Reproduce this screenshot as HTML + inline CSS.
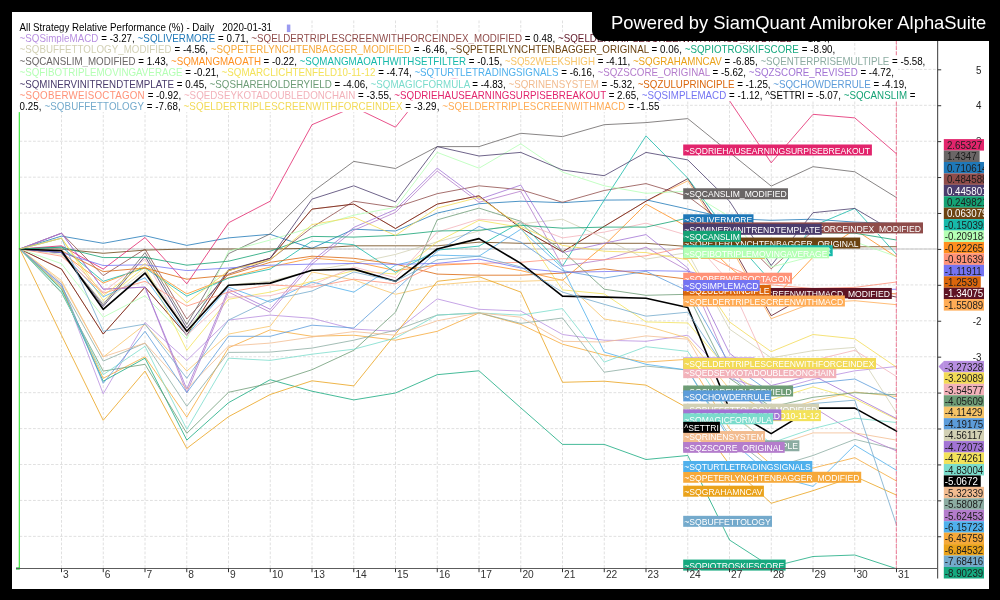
<!DOCTYPE html>
<html><head><meta charset="utf-8"><title>All Strategy Relative Performance</title>
<style>
html,body{margin:0;padding:0;background:#000;}
body{width:1000px;height:600px;position:relative;overflow:hidden;font-family:"Liberation Sans",Arial,sans-serif;}
#panel{position:absolute;left:12.25px;top:12.25px;width:976.25px;height:576.25px;background:#fff;}
svg{position:absolute;left:0;top:0;}
svg text{font-family:"Liberation Sans",Arial,sans-serif;}
.row{position:absolute;left:17.5px;padding-left:2px;height:11.4px;line-height:11.4px;font-size:9.75px;white-space:pre;background:#fff;color:#000;padding-right:1px;transform:scaleY(1.06);transform-origin:0 80%;}
#banner{position:absolute;left:591.5px;top:0;width:408.5px;height:41px;background:#000;border-bottom-left-radius:11px;color:#fff;font-size:18.4px;line-height:40px;}
#banner span{position:absolute;left:19.6px;top:3.1px;white-space:pre;}
</style></head><body>
<div id="panel"></div>
<svg width="1000" height="600" viewBox="0 0 1000 600">
<g stroke="#d8d8d8" stroke-width="0.8" stroke-dasharray="2.8 1.7" fill="none"><line x1="61.50" y1="20.5" x2="61.50" y2="568.5"/><line x1="103.25" y1="20.5" x2="103.25" y2="568.5"/><line x1="145.00" y1="20.5" x2="145.00" y2="568.5"/><line x1="186.75" y1="20.5" x2="186.75" y2="568.5"/><line x1="228.50" y1="20.5" x2="228.50" y2="568.5"/><line x1="270.25" y1="20.5" x2="270.25" y2="568.5"/><line x1="312.00" y1="20.5" x2="312.00" y2="568.5"/><line x1="353.75" y1="20.5" x2="353.75" y2="568.5"/><line x1="395.50" y1="20.5" x2="395.50" y2="568.5"/><line x1="437.25" y1="20.5" x2="437.25" y2="568.5"/><line x1="479.00" y1="20.5" x2="479.00" y2="568.5"/><line x1="520.75" y1="20.5" x2="520.75" y2="568.5"/><line x1="562.50" y1="20.5" x2="562.50" y2="568.5"/><line x1="604.25" y1="20.5" x2="604.25" y2="568.5"/><line x1="646.00" y1="20.5" x2="646.00" y2="568.5"/><line x1="687.75" y1="20.5" x2="687.75" y2="568.5"/><line x1="729.50" y1="20.5" x2="729.50" y2="568.5"/><line x1="771.25" y1="20.5" x2="771.25" y2="568.5"/><line x1="813.00" y1="20.5" x2="813.00" y2="568.5"/><line x1="854.75" y1="20.5" x2="854.75" y2="568.5"/><line x1="896.50" y1="20.5" x2="896.50" y2="568.5"/><line x1="19.5" y1="536.36" x2="937" y2="536.36"/><line x1="19.5" y1="500.44" x2="937" y2="500.44"/><line x1="19.5" y1="464.52" x2="937" y2="464.52"/><line x1="19.5" y1="428.60" x2="937" y2="428.60"/><line x1="19.5" y1="392.68" x2="937" y2="392.68"/><line x1="19.5" y1="356.76" x2="937" y2="356.76"/><line x1="19.5" y1="320.84" x2="937" y2="320.84"/><line x1="19.5" y1="284.92" x2="937" y2="284.92"/><line x1="19.5" y1="249.00" x2="937" y2="249.00"/><line x1="19.5" y1="213.08" x2="937" y2="213.08"/><line x1="19.5" y1="177.16" x2="937" y2="177.16"/><line x1="19.5" y1="141.24" x2="937" y2="141.24"/><line x1="19.5" y1="105.32" x2="937" y2="105.32"/><line x1="19.5" y1="69.40" x2="937" y2="69.40"/><line x1="19.5" y1="33.48" x2="937" y2="33.48"/></g>
<line x1="19.5" y1="249.00" x2="937" y2="249.00" stroke="#c4c4c4" stroke-width="1"/>
<line x1="19.3" y1="112" x2="19.3" y2="569" stroke="#2fe62f" stroke-width="1.1"/><rect x="16" y="567.4" width="3.8" height="2.2" fill="#21c63a"/>
<g fill="none" stroke-linejoin="round" stroke-linecap="round">
<polyline points="19.8,249.0 61.5,269.1 103.2,334.1 145.0,287.1 186.8,335.2 228.5,270.6 270.2,258.3 312.0,209.1 353.8,204.1 395.5,228.5 437.2,204.1 479.0,195.8 520.8,228.2 562.5,251.9 604.2,226.4 646.0,201.2 687.8,180.8 729.5,245.4 771.2,318.7 813.0,302.9 854.8,300.7 896.5,304.7" stroke="#ffac56" stroke-width="0.8"/>
<polyline points="19.8,249.0 61.5,284.9 103.2,393.8 145.0,322.6 186.8,360.4 228.5,320.1 270.2,315.1 312.0,318.3 353.8,329.1 395.5,331.3 437.2,298.9 479.0,309.3 520.8,311.1 562.5,334.5 604.2,340.2 646.0,341.3 687.8,335.2 729.5,378.3 771.2,390.9 813.0,379.4 854.8,370.8 896.5,366.5" stroke="#b78ee0" stroke-width="0.8"/>
<polyline points="19.8,249.0 61.5,236.1 103.2,243.3 145.0,235.7 186.8,245.4 228.5,237.9 270.2,234.3 312.0,248.3 353.8,229.2 395.5,231.0 437.2,213.1 479.0,203.7 520.8,201.2 562.5,202.7 604.2,200.1 646.0,199.8 687.8,209.1 729.5,218.5 771.2,220.3 813.0,219.2 854.8,222.1 896.5,223.5" stroke="#1f78b8" stroke-width="0.8"/>
<polyline points="19.8,249.0 61.5,233.2 103.2,275.6 145.0,249.0 186.8,319.0 228.5,274.1 270.2,259.8 312.0,227.4 353.8,201.2 395.5,207.3 437.2,193.7 479.0,185.8 520.8,189.7 562.5,202.3 604.2,190.5 646.0,183.6 687.8,196.2 729.5,227.4 771.2,268.8 813.0,231.0 854.8,227.4 896.5,231.8" stroke="#8f4c4a" stroke-width="0.8"/>
<polyline points="19.8,249.0 61.5,269.1 103.2,334.1 145.0,287.1 186.8,335.2 228.5,270.6 270.2,258.3 312.0,209.1 353.8,204.1 395.5,228.5 437.2,204.1 479.0,195.8 520.8,228.2 562.5,251.9 604.2,226.4 646.0,201.2 687.8,178.6 729.5,241.8 771.2,315.8 813.0,292.1 854.8,288.5 896.5,297.1" stroke="#5e1424" stroke-width="0.8"/>
<polyline points="19.8,249.0 61.5,254.4 103.2,302.9 145.0,270.6 186.8,328.0 228.5,284.9 270.2,281.3 312.0,270.6 353.8,263.4 395.5,254.4 437.2,241.8 479.0,231.0 520.8,223.9 562.5,219.2 604.2,238.2 646.0,259.1 687.8,252.6 729.5,329.1 771.2,357.8 813.0,350.7 854.8,347.4 896.5,412.8" stroke="#d2d0b4" stroke-width="0.8"/>
<polyline points="19.8,249.0 61.5,287.8 103.2,378.3 145.0,356.8 186.8,417.1 228.5,347.8 270.2,329.8 312.0,336.3 353.8,335.2 395.5,340.2 437.2,331.3 479.0,312.9 520.8,324.4 562.5,344.2 604.2,355.0 646.0,362.1 687.8,359.3 729.5,428.6 771.2,464.5 813.0,468.1 854.8,457.7 896.5,481.0" stroke="#f6a93a" stroke-width="0.8"/>
<polyline points="19.8,249.0 61.5,249.0 103.2,253.3 145.0,250.1 186.8,249.0 228.5,249.0 270.2,249.0 312.0,248.3 353.8,245.8 395.5,245.8 437.2,245.8 479.0,242.2 520.8,243.3 562.5,243.3 604.2,243.3 646.0,243.3 687.8,246.5 729.5,246.5 771.2,246.8 813.0,246.8 854.8,246.8 896.5,246.7" stroke="#6b4312" stroke-width="0.8"/>
<polyline points="19.8,249.0 61.5,289.2 103.2,381.2 145.0,358.2 186.8,440.1 228.5,402.7 270.2,379.7 312.0,391.2 353.8,399.9 395.5,393.0 437.2,374.7 479.0,370.8 520.8,407.8 562.5,444.4 604.2,444.4 646.0,459.5 687.8,455.5 729.5,540.0 771.2,566.9 813.0,556.5 854.8,555.0 896.5,568.7" stroke="#16a97f" stroke-width="0.8"/>
<polyline points="19.8,249.0 61.5,252.6 103.2,304.7 145.0,252.6 186.8,324.4 228.5,253.7 270.2,233.9 312.0,192.2 353.8,161.4 395.5,168.5 437.2,146.6 479.0,146.6 520.8,133.3 562.5,136.6 604.2,124.7 646.0,122.6 687.8,118.6 729.5,152.4 771.2,186.1 813.0,166.7 854.8,171.8 896.5,197.6" stroke="#6a6666" stroke-width="0.8"/>
<polyline points="19.8,249.0 61.5,252.6 103.2,283.1 145.0,267.0 186.8,293.9 228.5,277.7 270.2,267.0 312.0,258.0 353.8,261.6 395.5,270.6 437.2,265.2 479.0,263.4 520.8,270.6 562.5,280.3 604.2,245.4 646.0,204.1 687.8,227.1 729.5,267.0 771.2,301.1 813.0,257.3 854.8,229.6 896.5,256.9" stroke="#ff8f1f" stroke-width="0.8"/>
<polyline points="19.8,249.0 61.5,246.8 103.2,281.3 145.0,268.0 186.8,296.1 228.5,278.1 270.2,269.1 312.0,241.1 353.8,244.7 395.5,272.3 437.2,250.1 479.0,246.1 520.8,222.1 562.5,266.2 604.2,200.1 646.0,135.9 687.8,178.2 729.5,234.6 771.2,281.7 813.0,226.0 854.8,208.4 896.5,254.4" stroke="#17b9aa" stroke-width="0.8"/>
<polyline points="19.8,249.0 61.5,280.6 103.2,357.1 145.0,324.4 186.8,371.1 228.5,334.1 270.2,326.2 312.0,272.0 353.8,279.9 395.5,294.3 437.2,284.9 479.0,281.3 520.8,281.3 562.5,279.9 604.2,319.0 646.0,325.9 687.8,338.1 729.5,389.1 771.2,414.2 813.0,400.9 854.8,392.0 896.5,396.6" stroke="#f7c467" stroke-width="0.8"/>
<polyline points="19.8,249.0 61.5,335.2 103.2,420.3 145.0,371.1 186.8,448.4 228.5,416.7 270.2,394.5 312.0,380.8 353.8,385.9 395.5,334.1 437.2,281.3 479.0,276.7 520.8,292.1 562.5,382.3 604.2,381.2 646.0,385.1 687.8,408.1 729.5,464.5 771.2,503.3 813.0,490.7 854.8,476.4 896.5,495.1" stroke="#eaa21a" stroke-width="0.8"/>
<polyline points="19.8,249.0 61.5,286.4 103.2,361.1 145.0,343.1 186.8,406.3 228.5,352.4 270.2,352.1 312.0,348.1 353.8,340.2 395.5,330.2 437.2,315.1 479.0,312.9 520.8,323.4 562.5,318.0 604.2,372.2 646.0,366.1 687.8,370.1 729.5,435.8 771.2,468.1 813.0,455.5 854.8,439.4 896.5,449.4" stroke="#8caca2" stroke-width="0.8"/>
<polyline points="19.8,249.0 61.5,263.7 103.2,317.2 145.0,295.7 186.8,338.8 228.5,251.2 270.2,240.0 312.0,227.4 353.8,215.2 395.5,207.3 437.2,152.4 479.0,168.2 520.8,143.8 562.5,172.1 604.2,185.8 646.0,193.3 687.8,191.2 729.5,216.7 771.2,267.0 813.0,256.2 854.8,241.8 896.5,256.5" stroke="#b4ffb4" stroke-width="0.8"/>
<polyline points="19.8,249.0 61.5,238.2 103.2,300.4 145.0,267.0 186.8,350.3 228.5,299.3 270.2,292.1 312.0,281.3 353.8,270.6 395.5,274.1 437.2,241.8 479.0,220.3 520.8,227.4 562.5,289.9 604.2,293.9 646.0,321.9 687.8,323.0 729.5,371.1 771.2,399.9 813.0,386.9 854.8,398.8 896.5,419.3" stroke="#f3e25a" stroke-width="0.8"/>
<polyline points="19.8,249.0 61.5,252.6 103.2,296.8 145.0,277.7 186.8,335.2 228.5,287.1 270.2,302.2 312.0,282.0 353.8,292.1 395.5,265.2 437.2,255.1 479.0,256.2 520.8,229.2 562.5,268.0 604.2,352.1 646.0,364.3 687.8,370.1 729.5,439.4 771.2,475.3 813.0,486.4 854.8,445.1 896.5,470.3" stroke="#4fb0ec" stroke-width="0.8"/>
<polyline points="19.8,249.0 61.5,233.2 103.2,289.2 145.0,287.1 186.8,392.7 228.5,292.1 270.2,312.2 312.0,264.1 353.8,230.3 395.5,212.4 437.2,171.1 479.0,202.3 520.8,191.2 562.5,266.2 604.2,259.8 646.0,247.2 687.8,270.6 729.5,367.5 771.2,414.2 813.0,407.0 854.8,432.9 896.5,450.9" stroke="#b47ccc" stroke-width="0.8"/>
<polyline points="19.8,249.0 61.5,233.2 103.2,289.2 145.0,287.1 186.8,389.1 228.5,289.2 270.2,309.3 312.0,261.2 353.8,227.4 395.5,209.5 437.2,168.2 479.0,199.4 520.8,185.1 562.5,252.6 604.2,243.3 646.0,234.6 687.8,268.0 729.5,353.2 771.2,385.5 813.0,375.4 854.8,397.0 896.5,418.5" stroke="#a274d4" stroke-width="0.8"/>
<polyline points="19.8,249.0 61.5,252.6 103.2,306.5 145.0,256.2 186.8,328.0 228.5,269.8 270.2,258.3 312.0,199.1 353.8,185.8 395.5,201.9 437.2,146.6 479.0,156.0 520.8,152.4 562.5,170.0 604.2,175.7 646.0,152.4 687.8,159.9 729.5,201.2 771.2,265.5 813.0,212.7 854.8,208.4 896.5,233.0" stroke="#4a3c6c" stroke-width="0.8"/>
<polyline points="19.8,249.0 61.5,292.8 103.2,371.1 145.0,364.3 186.8,433.3 228.5,392.3 270.2,383.3 312.0,369.7 353.8,350.3 395.5,312.2 437.2,219.9 479.0,208.1 520.8,221.3 562.5,250.8 604.2,289.2 646.0,295.3 687.8,294.3 729.5,378.3 771.2,407.0 813.0,397.3 854.8,392.7 896.5,394.8" stroke="#6d9c76" stroke-width="0.8"/>
<polyline points="19.8,249.0 61.5,291.4 103.2,374.7 145.0,346.3 186.8,429.3 228.5,358.2 270.2,360.4 312.0,354.2 353.8,349.2 395.5,338.1 437.2,315.1 479.0,312.9 520.8,315.1 562.5,308.6 604.2,362.1 646.0,346.7 687.8,351.4 729.5,414.2 771.2,443.0 813.0,428.6 854.8,418.2 896.5,422.5" stroke="#7adccc" stroke-width="0.8"/>
<polyline points="19.8,249.0 61.5,282.4 103.2,356.8 145.0,343.1 186.8,389.1 228.5,346.0 270.2,343.1 312.0,337.0 353.8,331.6 395.5,335.2 437.2,320.8 479.0,312.9 520.8,317.2 562.5,341.3 604.2,342.0 646.0,335.9 687.8,339.2 729.5,410.6 771.2,446.6 813.0,432.9 854.8,432.9 896.5,440.1" stroke="#f2bc90" stroke-width="0.8"/>
<polyline points="19.8,249.0 61.5,250.8 103.2,271.6 145.0,268.0 186.8,279.2 228.5,275.2 270.2,262.3 312.0,256.2 353.8,258.3 395.5,264.1 437.2,274.1 479.0,275.2 520.8,275.2 562.5,273.1 604.2,268.8 646.0,274.1 687.8,279.2 729.5,288.5 771.2,293.9 813.0,292.1 854.8,292.1 896.5,293.9" stroke="#da660c" stroke-width="0.8"/>
<polyline points="19.8,249.0 61.5,284.2 103.2,383.3 145.0,331.3 186.8,392.7 228.5,336.3 270.2,336.3 312.0,325.2 353.8,328.0 395.5,290.3 437.2,251.2 479.0,226.4 520.8,242.2 562.5,270.6 604.2,278.1 646.0,271.3 687.8,291.0 729.5,363.9 771.2,392.7 813.0,383.3 854.8,379.0 896.5,399.5" stroke="#5c9cda" stroke-width="0.8"/>
<polyline points="19.8,249.0 61.5,256.2 103.2,293.2 145.0,281.3 186.8,306.1 228.5,292.1 270.2,284.9 312.0,287.1 353.8,279.2 395.5,283.8 437.2,264.1 479.0,263.4 520.8,262.3 562.5,258.7 604.2,259.8 646.0,255.8 687.8,246.5 729.5,267.0 771.2,284.9 813.0,288.5 854.8,287.4 896.5,282.0" stroke="#ff9278" stroke-width="0.8"/>
<polyline points="19.8,249.0 61.5,250.8 103.2,292.1 145.0,259.1 186.8,335.2 228.5,297.1 270.2,295.7 312.0,284.9 353.8,267.0 395.5,277.7 437.2,232.1 479.0,219.2 520.8,222.1 562.5,237.9 604.2,232.1 646.0,223.1 687.8,235.4 729.5,282.0 771.2,374.0 813.0,360.4 854.8,350.3 896.5,376.5" stroke="#f2b2ba" stroke-width="0.8"/>
<polyline points="19.8,249.0 61.5,245.8 103.2,269.1 145.0,237.5 186.8,283.8 228.5,222.8 270.2,201.2 312.0,124.7 353.8,107.1 395.5,127.2 437.2,74.8 479.0,83.8 520.8,91.0 562.5,80.2 604.2,87.4 646.0,94.5 687.8,83.8 729.5,100.7 771.2,162.8 813.0,114.3 854.8,117.9 896.5,153.8" stroke="#e2246c" stroke-width="0.8"/>
<polyline points="19.8,249.0 61.5,252.6 103.2,265.5 145.0,264.8 186.8,270.6 228.5,268.0 270.2,265.2 312.0,264.1 353.8,263.4 395.5,264.4 437.2,263.4 479.0,259.1 520.8,268.0 562.5,272.3 604.2,271.6 646.0,270.6 687.8,271.3 729.5,281.3 771.2,288.5 813.0,290.3 854.8,290.3 896.5,289.2" stroke="#7474f2" stroke-width="0.8"/>
<polyline points="19.8,249.0 61.5,250.8 103.2,309.3 145.0,273.1 186.8,331.3 228.5,285.3 270.2,283.1 312.0,270.2 353.8,269.1 395.5,281.3 437.2,249.0 479.0,238.6 520.8,263.4 562.5,296.1 604.2,297.1 646.0,298.2 687.8,307.5 729.5,409.2 771.2,433.6 813.0,408.1 854.8,408.1 896.5,431.1" stroke="#000000" stroke-width="1.65"/>
<polyline points="19.8,249.0 61.5,247.2 103.2,257.6 145.0,257.3 186.8,265.2 228.5,261.2 270.2,251.2 312.0,236.4 353.8,237.1 395.5,235.4 437.2,231.0 479.0,230.3 520.8,225.3 562.5,228.2 604.2,227.1 646.0,227.1 687.8,218.1 729.5,223.9 771.2,231.0 813.0,232.8 854.8,233.2 896.5,240.0" stroke="#14a274" stroke-width="0.8"/>
<polyline points="19.8,249.0 61.5,238.2 103.2,331.3 145.0,324.1 186.8,378.3 228.5,320.1 270.2,300.0 312.0,291.0 353.8,272.0 395.5,281.3 437.2,259.8 479.0,256.2 520.8,267.0 562.5,292.1 604.2,304.3 646.0,316.2 687.8,312.2 729.5,374.7 771.2,410.6 813.0,403.5 854.8,400.2 896.5,524.9" stroke="#74aacc" stroke-width="0.8"/>
<polyline points="19.8,249.0 61.5,238.2 103.2,295.7 145.0,263.4 186.8,302.9 228.5,270.6 270.2,259.8 312.0,224.6 353.8,217.2 395.5,235.4 437.2,208.1 479.0,197.3 520.8,226.4 562.5,245.4 604.2,251.2 646.0,252.6 687.8,259.8 729.5,321.9 771.2,351.7 813.0,334.5 854.8,338.8 896.5,367.2" stroke="#f2da56" stroke-width="0.8"/>
</g>
<line x1="896.3" y1="40" x2="896.3" y2="569" stroke="#ec5a7c" stroke-width="0.8" stroke-dasharray="4.4 1.2"/>
<g font-size="8.6" fill="#fff">
<rect x="683.2" y="357.38" width="71.3" height="11" fill="#b78ee0"/><text transform="translate(684.3,366.58) scale(1,1.13)">~SQSimpleMACD</text>
<rect x="683.2" y="214.27" width="70.3" height="11" fill="#1f78b8"/><text transform="translate(684.3,223.47) scale(1,1.13)">~SQLIVERMORE</text>
<rect x="683.2" y="222.39" width="239.8" height="11" fill="#8f4c4a"/><text transform="translate(684.3,231.59) scale(1,1.13)">~SQELDERTRIPLESCREENWITHFORCEINDEX_MODIFIED</text>
<rect x="683.2" y="287.96" width="208.6" height="11" fill="#5e1424"/><text transform="translate(684.3,297.16) scale(1,1.13)">~SQELDERTRIPLESCREENWITHMACD_MODIFIED</text>
<rect x="683.2" y="403.64" width="135.8" height="11" fill="#d2d0b4"/><text transform="translate(684.3,412.84) scale(1,1.13)">~SQBUFFETTOLOGY_MODIFIED</text>
<rect x="683.2" y="471.76" width="178.0" height="11" fill="#f6a93a"/><text transform="translate(684.3,480.96) scale(1,1.13)">~SQPETERLYNCHTENBAGGER_MODIFIED</text>
<rect x="683.2" y="237.53" width="177.0" height="11" fill="#6b4312"/><text transform="translate(684.3,246.73) scale(1,1.13)">~SQPETERLYNCHTENBAGGER_ORIGINAL</text>
<rect x="683.2" y="559.57" width="102.4" height="11" fill="#16a97f"/><text transform="translate(684.3,568.77) scale(1,1.13)">~SQPIOTROSKIFSCORE</text>
<rect x="683.2" y="188.27" width="104.8" height="11" fill="#6a6666"/><text transform="translate(684.3,197.47) scale(1,1.13)">~SQCANSLIM_MODIFIED</text>
<rect x="683.2" y="247.80" width="81.6" height="11" fill="#ff8f1f"/><text transform="translate(684.3,257.00) scale(1,1.13)">~SQMANGMAOATH</text>
<rect x="683.2" y="245.20" width="149.5" height="11" fill="#17b9aa"/><text transform="translate(684.3,254.40) scale(1,1.13)">~SQMANGMAOATHWITHSETFILTER</text>
<rect x="683.2" y="387.59" width="81.8" height="11" fill="#f7c467"/><text transform="translate(684.3,396.79) scale(1,1.13)">~SQ52WEEKSHIGH</text>
<rect x="683.2" y="485.68" width="80.7" height="11" fill="#eaa21a"/><text transform="translate(684.3,494.88) scale(1,1.13)">~SQGRAHAMNCAV</text>
<rect x="683.2" y="440.26" width="116.2" height="11" fill="#8caca2"/><text transform="translate(684.3,449.46) scale(1,1.13)">~SQENTERPRISEMULTIPLE</text>
<rect x="683.2" y="247.31" width="145.9" height="11" fill="#b4ffb4"/><text transform="translate(684.3,256.51) scale(1,1.13)">~SQFIBOTRIPLEMOVINGAVERAGE</text>
<rect x="683.2" y="410.15" width="137.7" height="11" fill="#f3e25a"/><text transform="translate(684.3,419.35) scale(1,1.13)">~SQMARCLICHTENFELD10-11-12</text>
<rect x="683.2" y="460.97" width="129.1" height="11" fill="#4fb0ec"/><text transform="translate(684.3,470.17) scale(1,1.13)">~SQTURTLETRADINGSIGNALS</text>
<rect x="683.2" y="441.83" width="101.5" height="11" fill="#b47ccc"/><text transform="translate(684.3,451.03) scale(1,1.13)">~SQZSCORE_ORIGINAL</text>
<rect x="683.2" y="409.37" width="98.1" height="11" fill="#a274d4"/><text transform="translate(684.3,418.57) scale(1,1.13)">~SQZSCORE_REVISED</text>
<rect x="683.2" y="223.79" width="138.5" height="11" fill="#4a3c6c"/><text transform="translate(684.3,232.99) scale(1,1.13)">~SQMINERVINITRENDTEMPLATE</text>
<rect x="683.2" y="385.49" width="109.9" height="11" fill="#6d9c76"/><text transform="translate(684.3,394.69) scale(1,1.13)">~SQSHAREHOLDERYIELD</text>
<rect x="683.2" y="413.30" width="89.9" height="11" fill="#7adccc"/><text transform="translate(684.3,422.50) scale(1,1.13)">~SQMAGICFORMULA</text>
<rect x="683.2" y="431.02" width="81.8" height="11" fill="#f2bc90"/><text transform="translate(684.3,440.22) scale(1,1.13)">~SQRINENSYSTEM</text>
<rect x="683.2" y="284.84" width="87.6" height="11" fill="#da660c"/><text transform="translate(684.3,294.04) scale(1,1.13)">~SQZULUPRINCIPLE</text>
<rect x="683.2" y="390.37" width="88.0" height="11" fill="#5c9cda"/><text transform="translate(684.3,399.57) scale(1,1.13)">~SQCHOWDERRULE</text>
<rect x="683.2" y="272.72" width="108.8" height="11" fill="#ff9278"/><text transform="translate(684.3,281.92) scale(1,1.13)">~SQOBERWEISOCTAGON</text>
<rect x="683.2" y="367.16" width="153.1" height="11" fill="#f2b2ba"/><text transform="translate(684.3,376.36) scale(1,1.13)">~SQEDSEYKOTADOUBLEDONCHAIN</text>
<rect x="683.2" y="144.49" width="188.7" height="11" fill="#e2246c"/><text transform="translate(684.3,153.69) scale(1,1.13)">~SQDRIEHAUSEARNINGSURPISEBREAKOUT</text>
<rect x="683.2" y="280.00" width="76.5" height="11" fill="#7474f2"/><text transform="translate(684.3,289.20) scale(1,1.13)">~SQSIMPLEMACD</text>
<rect x="683.2" y="421.81" width="36.7" height="11" fill="#000000"/><text transform="translate(684.3,431.01) scale(1,1.13)">^SETTRI</text>
<rect x="683.2" y="230.83" width="57.8" height="11" fill="#14a274"/><text transform="translate(684.3,240.03) scale(1,1.13)">~SQCANSLIM</text>
<rect x="683.2" y="515.82" width="88.8" height="11" fill="#74aacc"/><text transform="translate(684.3,525.02) scale(1,1.13)">~SQBUFFETTOLOGY</text>
<rect x="683.2" y="358.01" width="192.8" height="11" fill="#f2da56"/><text transform="translate(684.3,367.21) scale(1,1.13)">~SQELDERTRIPLESCREENWITHFORCEINDEX</text>
<rect x="683.2" y="295.51" width="161.7" height="11" fill="#ffac56"/><text transform="translate(684.3,304.71) scale(1,1.13)">~SQELDERTRIPLESCREENWITHMACD</text>
</g>
<line x1="16" y1="568.5" x2="938" y2="568.5" stroke="#5c5c5c" stroke-width="1"/>
<line x1="937.6" y1="40" x2="937.6" y2="578.5" stroke="#5a5a5a" stroke-width="1.2"/>
<g stroke="#333" stroke-width="1"><line x1="61.50" y1="568.5" x2="61.50" y2="572.2"/><line x1="103.25" y1="568.5" x2="103.25" y2="572.2"/><line x1="145.00" y1="568.5" x2="145.00" y2="572.2"/><line x1="186.75" y1="568.5" x2="186.75" y2="572.2"/><line x1="228.50" y1="568.5" x2="228.50" y2="572.2"/><line x1="270.25" y1="568.5" x2="270.25" y2="572.2"/><line x1="312.00" y1="568.5" x2="312.00" y2="572.2"/><line x1="353.75" y1="568.5" x2="353.75" y2="572.2"/><line x1="395.50" y1="568.5" x2="395.50" y2="572.2"/><line x1="437.25" y1="568.5" x2="437.25" y2="572.2"/><line x1="479.00" y1="568.5" x2="479.00" y2="572.2"/><line x1="520.75" y1="568.5" x2="520.75" y2="572.2"/><line x1="562.50" y1="568.5" x2="562.50" y2="572.2"/><line x1="604.25" y1="568.5" x2="604.25" y2="572.2"/><line x1="646.00" y1="568.5" x2="646.00" y2="572.2"/><line x1="687.75" y1="568.5" x2="687.75" y2="572.2"/><line x1="729.50" y1="568.5" x2="729.50" y2="572.2"/><line x1="771.25" y1="568.5" x2="771.25" y2="572.2"/><line x1="813.00" y1="568.5" x2="813.00" y2="572.2"/><line x1="854.75" y1="568.5" x2="854.75" y2="572.2"/><line x1="896.50" y1="568.5" x2="896.50" y2="572.2"/><line x1="937.6" y1="536.76" x2="941.2" y2="536.76"/><line x1="937.6" y1="500.84" x2="941.2" y2="500.84"/><line x1="937.6" y1="464.92" x2="941.2" y2="464.92"/><line x1="937.6" y1="429.00" x2="941.2" y2="429.00"/><line x1="937.6" y1="393.08" x2="941.2" y2="393.08"/><line x1="937.6" y1="357.16" x2="941.2" y2="357.16"/><line x1="937.6" y1="321.24" x2="941.2" y2="321.24"/><line x1="937.6" y1="285.32" x2="941.2" y2="285.32"/><line x1="937.6" y1="249.40" x2="941.2" y2="249.40"/><line x1="937.6" y1="213.48" x2="941.2" y2="213.48"/><line x1="937.6" y1="177.56" x2="941.2" y2="177.56"/><line x1="937.6" y1="141.64" x2="941.2" y2="141.64"/><line x1="937.6" y1="105.72" x2="941.2" y2="105.72"/><line x1="937.6" y1="69.80" x2="941.2" y2="69.80"/></g>
<g font-size="10.2" fill="#333"><text x="63.1" y="578.1">3</text><text x="104.8" y="578.1">6</text><text x="146.6" y="578.1">7</text><text x="188.3" y="578.1">8</text><text x="230.1" y="578.1">9</text><text x="271.9" y="578.1">10</text><text x="313.6" y="578.1">13</text><text x="355.4" y="578.1">14</text><text x="397.1" y="578.1">15</text><text x="438.9" y="578.1">16</text><text x="480.6" y="578.1">17</text><text x="522.4" y="578.1">20</text><text x="564.1" y="578.1">21</text><text x="605.9" y="578.1">22</text><text x="647.6" y="578.1">23</text><text x="689.4" y="578.1">24</text><text x="731.1" y="578.1">27</text><text x="772.9" y="578.1">28</text><text x="814.6" y="578.1">29</text><text x="856.4" y="578.1">30</text><text x="898.1" y="578.1">31</text></g>
<g font-size="9.75" fill="#222" text-anchor="end"><text transform="translate(981.5,540.5) scale(1,1.07)">-8</text><text transform="translate(981.5,504.5) scale(1,1.07)">-7</text><text transform="translate(981.5,468.6) scale(1,1.07)">-6</text><text transform="translate(981.5,432.7) scale(1,1.07)">-5</text><text transform="translate(981.5,396.8) scale(1,1.07)">-4</text><text transform="translate(981.5,360.9) scale(1,1.07)">-3</text><text transform="translate(981.5,324.9) scale(1,1.07)">-2</text><text transform="translate(981.5,289.0) scale(1,1.07)">-1</text><text transform="translate(981.5,253.1) scale(1,1.07)">0</text><text transform="translate(981.5,217.2) scale(1,1.07)">1</text><text transform="translate(981.5,181.3) scale(1,1.07)">2</text><text transform="translate(981.5,145.3) scale(1,1.07)">3</text><text transform="translate(981.5,109.4) scale(1,1.07)">4</text><text transform="translate(981.5,73.5) scale(1,1.07)">5</text></g>
<clipPath id="vc"><rect x="930" y="0" width="53.9" height="600"/></clipPath>
<g font-size="9.75" clip-path="url(#vc)">
<rect x="943.8" y="139.10" width="40.70" height="11.48" fill="#e2246c"/><text transform="translate(946.9,148.85) scale(1,1.07)" fill="#1c1c1c">2.65327</text>
<rect x="943.8" y="150.53" width="35.82" height="11.48" fill="#6a6666"/><text transform="translate(946.9,160.28) scale(1,1.07)" fill="#1c1c1c">1.4347</text>
<rect x="943.8" y="161.96" width="40.70" height="11.48" fill="#1f78b8"/><text transform="translate(946.9,171.71) scale(1,1.07)" fill="#1c1c1c">0.710614</text>
<rect x="943.8" y="173.39" width="40.70" height="11.48" fill="#8f4c4a"/><text transform="translate(946.9,183.14) scale(1,1.07)" fill="#1c1c1c">0.484588</text>
<rect x="943.8" y="184.82" width="40.70" height="11.48" fill="#4a3c6c"/><text transform="translate(946.9,194.57) scale(1,1.07)" fill="#fff">0.445801</text>
<rect x="943.8" y="196.25" width="40.70" height="11.48" fill="#14a274"/><text transform="translate(946.9,206.00) scale(1,1.07)" fill="#1c1c1c">0.249821</text>
<rect x="943.8" y="207.68" width="40.70" height="11.48" fill="#6b4312"/><text transform="translate(946.9,217.43) scale(1,1.07)" fill="#fff">0.063079</text>
<rect x="943.8" y="219.11" width="40.70" height="11.48" fill="#17b9aa"/><text transform="translate(944.8,228.86) scale(1,1.07)" fill="#1c1c1c">-0.150395</text>
<rect x="943.8" y="230.54" width="40.70" height="11.48" fill="#b4ffb4"/><text transform="translate(944.8,240.29) scale(1,1.07)" fill="#1c1c1c">-0.209188</text>
<rect x="943.8" y="241.97" width="40.70" height="11.48" fill="#ff8f1f"/><text transform="translate(944.8,251.72) scale(1,1.07)" fill="#1c1c1c">-0.22265</text>
<rect x="943.8" y="253.40" width="40.70" height="11.48" fill="#ff9278"/><text transform="translate(944.8,263.15) scale(1,1.07)" fill="#1c1c1c">-0.916392</text>
<rect x="943.8" y="264.83" width="40.70" height="11.48" fill="#7474f2"/><text transform="translate(944.8,274.58) scale(1,1.07)" fill="#1c1c1c">-1.11911</text>
<rect x="943.8" y="276.26" width="36.97" height="11.48" fill="#da660c"/><text transform="translate(944.8,286.01) scale(1,1.07)" fill="#1c1c1c">-1.2539</text>
<rect x="943.8" y="287.69" width="40.70" height="11.48" fill="#5e1424"/><text transform="translate(944.8,297.44) scale(1,1.07)" fill="#fff">-1.34075</text>
<rect x="943.8" y="299.12" width="40.70" height="11.48" fill="#ffac56"/><text transform="translate(944.8,308.87) scale(1,1.07)" fill="#1c1c1c">-1.55089</text>
<polygon points="938.5,366.62 943.9,360.90 943.9,372.35" fill="#b78ee0"/><rect x="943.8" y="360.90" width="40.70" height="11.50" fill="#b78ee0"/><text transform="translate(944.8,370.65) scale(1,1.07)" fill="#1c1c1c">-3.27328</text>
<rect x="943.8" y="372.35" width="40.70" height="11.50" fill="#f2da56"/><text transform="translate(944.8,382.10) scale(1,1.07)" fill="#1c1c1c">-3.29089</text>
<rect x="943.8" y="383.80" width="40.70" height="11.50" fill="#f2b2ba"/><text transform="translate(944.8,393.55) scale(1,1.07)" fill="#1c1c1c">-3.54577</text>
<rect x="943.8" y="395.25" width="40.70" height="11.50" fill="#6d9c76"/><text transform="translate(944.8,405.00) scale(1,1.07)" fill="#1c1c1c">-4.05609</text>
<rect x="943.8" y="406.70" width="40.70" height="11.50" fill="#f7c467"/><text transform="translate(944.8,416.45) scale(1,1.07)" fill="#1c1c1c">-4.11429</text>
<rect x="943.8" y="418.15" width="40.70" height="11.50" fill="#5c9cda"/><text transform="translate(944.8,427.90) scale(1,1.07)" fill="#1c1c1c">-4.19175</text>
<rect x="943.8" y="429.60" width="40.70" height="11.50" fill="#d2d0b4"/><text transform="translate(944.8,439.35) scale(1,1.07)" fill="#1c1c1c">-4.56117</text>
<rect x="943.8" y="441.05" width="40.70" height="11.50" fill="#a274d4"/><text transform="translate(944.8,450.80) scale(1,1.07)" fill="#1c1c1c">-4.72073</text>
<rect x="943.8" y="452.50" width="40.70" height="11.50" fill="#f3e25a"/><text transform="translate(944.8,462.25) scale(1,1.07)" fill="#1c1c1c">-4.74261</text>
<rect x="943.8" y="463.95" width="40.70" height="11.50" fill="#7adccc"/><text transform="translate(944.8,473.70) scale(1,1.07)" fill="#1c1c1c">-4.83004</text>
<rect x="943.8" y="475.40" width="36.97" height="11.50" fill="#000000"/><text transform="translate(944.8,485.15) scale(1,1.07)" fill="#fff">-5.0672</text>
<rect x="943.8" y="486.85" width="40.70" height="11.50" fill="#f2bc90"/><text transform="translate(944.8,496.60) scale(1,1.07)" fill="#1c1c1c">-5.32339</text>
<rect x="943.8" y="498.30" width="40.70" height="11.50" fill="#8caca2"/><text transform="translate(944.8,508.05) scale(1,1.07)" fill="#1c1c1c">-5.58087</text>
<rect x="943.8" y="509.75" width="40.70" height="11.50" fill="#b47ccc"/><text transform="translate(944.8,519.50) scale(1,1.07)" fill="#1c1c1c">-5.62453</text>
<rect x="943.8" y="521.20" width="40.70" height="11.50" fill="#4fb0ec"/><text transform="translate(944.8,530.95) scale(1,1.07)" fill="#1c1c1c">-6.15723</text>
<rect x="943.8" y="532.65" width="40.70" height="11.50" fill="#f6a93a"/><text transform="translate(944.8,542.40) scale(1,1.07)" fill="#1c1c1c">-6.45759</text>
<rect x="943.8" y="544.10" width="40.70" height="11.50" fill="#eaa21a"/><text transform="translate(944.8,553.85) scale(1,1.07)" fill="#1c1c1c">-6.84532</text>
<rect x="943.8" y="555.55" width="40.70" height="11.50" fill="#74aacc"/><text transform="translate(944.8,565.30) scale(1,1.07)" fill="#1c1c1c">-7.68416</text>
<rect x="943.8" y="567.00" width="40.70" height="11.50" fill="#16a97f"/><text transform="translate(944.8,576.75) scale(1,1.07)" fill="#1c1c1c">-8.90239</text>
</g>
</svg>
<div class="row" style="top:21.75px;letter-spacing:0px">All Strategy Relative Performance (%) - Daily   2020-01-31     <span style="color:#9a9af0">&#9646;</span></div>
<div class="row" style="top:33.12px;letter-spacing:0.045px"><span style="color:#b78ee0">~SQSimpleMACD</span> = -3.27, <span style="color:#1f78b8">~SQLIVERMORE</span> = 0.71, <span style="color:#8f4c4a">~SQELDERTRIPLESCREENWITHFORCEINDEX_MODIFIED</span> = 0.48, <span style="color:#5e1424">~SQELDERTRIPLESCREENWITHMACD_MODIFIED</span> = -1.34, </div>
<div class="row" style="top:44.49px;letter-spacing:0.039px"><span style="color:#d2d0b4">~SQBUFFETTOLOGY_MODIFIED</span> = -4.56, <span style="color:#f6a93a">~SQPETERLYNCHTENBAGGER_MODIFIED</span> = -6.46, <span style="color:#6b4312">~SQPETERLYNCHTENBAGGER_ORIGINAL</span> = 0.06, <span style="color:#16a97f">~SQPIOTROSKIFSCORE</span> = -8.90, </div>
<div class="row" style="top:55.86px;letter-spacing:-0.008px"><span style="color:#6a6666">~SQCANSLIM_MODIFIED</span> = 1.43, <span style="color:#ff8f1f">~SQMANGMAOATH</span> = -0.22, <span style="color:#17b9aa">~SQMANGMAOATHWITHSETFILTER</span> = -0.15, <span style="color:#f7c467">~SQ52WEEKSHIGH</span> = -4.11, <span style="color:#eaa21a">~SQGRAHAMNCAV</span> = -6.85, <span style="color:#8caca2">~SQENTERPRISEMULTIPLE</span> = -5.58, </div>
<div class="row" style="top:67.23px;letter-spacing:0.018px"><span style="color:#b4ffb4">~SQFIBOTRIPLEMOVINGAVERAGE</span> = -0.21, <span style="color:#f3e25a">~SQMARCLICHTENFELD10-11-12</span> = -4.74, <span style="color:#4fb0ec">~SQTURTLETRADINGSIGNALS</span> = -6.16, <span style="color:#b47ccc">~SQZSCORE_ORIGINAL</span> = -5.62, <span style="color:#a274d4">~SQZSCORE_REVISED</span> = -4.72, </div>
<div class="row" style="top:78.60px;letter-spacing:0.008px"><span style="color:#4a3c6c">~SQMINERVINITRENDTEMPLATE</span> = 0.45, <span style="color:#6d9c76">~SQSHAREHOLDERYIELD</span> = -4.06, <span style="color:#7adccc">~SQMAGICFORMULA</span> = -4.83, <span style="color:#f2bc90">~SQRINENSYSTEM</span> = -5.32, <span style="color:#da660c">~SQZULUPRINCIPLE</span> = -1.25, <span style="color:#5c9cda">~SQCHOWDERRULE</span> = -4.19, </div>
<div class="row" style="top:89.97px;letter-spacing:0.024px"><span style="color:#ff9278;letter-spacing:0.26px">~SQOBERWEISOCTAGON</span> = -0.92, <span style="color:#f2b2ba">~SQEDSEYKOTADOUBLEDONCHAIN</span> = -3.55, <span style="color:#e2246c">~SQDRIEHAUSEARNINGSURPISEBREAKOUT</span> = 2.65, <span style="color:#7474f2">~SQSIMPLEMACD</span> = -1.12, <span style="color:#000000">^SETTRI</span> = -5.07, <span style="color:#14a274">~SQCANSLIM</span> =</div>
<div class="row" style="top:101.34px;letter-spacing:0.095px">0.25, <span style="color:#74aacc">~SQBUFFETTOLOGY</span> = -7.68, <span style="color:#f2da56">~SQELDERTRIPLESCREENWITHFORCEINDEX</span> = -3.29, <span style="color:#ffac56">~SQELDERTRIPLESCREENWITHMACD</span> = -1.55</div>
<div id="banner"><span>Powered by SiamQuant Amibroker AlphaSuite</span></div>
</body></html>
